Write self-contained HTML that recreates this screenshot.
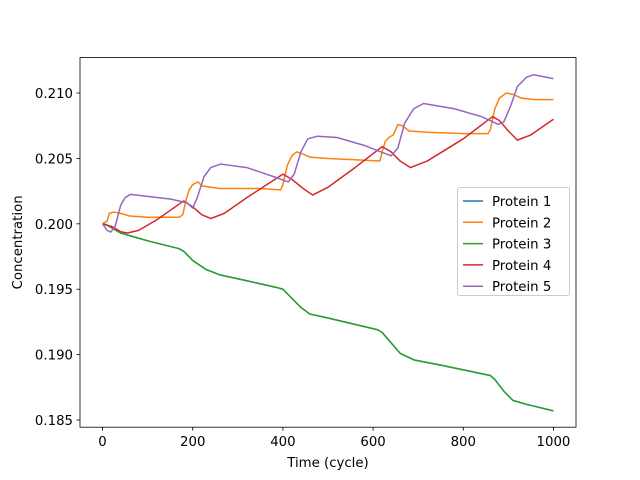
<!DOCTYPE html>
<html><head><meta charset="utf-8"><style>
body{margin:0;background:#fff}
svg{display:block;font-family:"DejaVu Sans","Liberation Sans",sans-serif}
</style></head><body>
<svg id="chart" width="640" height="480" viewBox="0 0 640 480"></svg>
<script>
const xTicks=[0,200,400,600,800,1000];
const yTicks=[0.185,0.190,0.195,0.200,0.205,0.210];
const yTickLabels=["0.185","0.190","0.195","0.200","0.205","0.210"];
const seriesNames=["Protein 1","Protein 2","Protein 3","Protein 4","Protein 5"];
const colors=["#1f77b4","#ff7f0e","#2ca02c","#d62728","#9467bd"];
const p3x=[0,10,40,60,100,170,180,200,230,260,300,390,400,420,440,460,500,610,620,640,660,690,750,860,870,890,910,940,1000];
const p3y=[0.2000,0.1999,0.1993,0.1991,0.1987,0.1981,0.1979,0.1972,0.1965,0.1961,0.1958,0.1951,0.1950,0.1943,0.1936,0.1931,0.1928,0.1919,0.1917,0.1909,0.1901,0.1896,0.1892,0.1884,0.1881,0.1872,0.1865,0.1862,0.1857];
const p2x=[0,10,15,25,40,60,100,170,178,185,192,200,212,220,260,300,350,395,400,410,420,430,440,460,500,560,615,620,627,635,645,655,665,680,720,800,855,860,870,880,895,910,930,960,1000];
const p2y=[0.2000,0.2002,0.2008,0.2009,0.2008,0.2006,0.2005,0.2005,0.2007,0.2018,0.2026,0.2030,0.2032,0.2029,0.2027,0.2027,0.2027,0.2026,0.2030,0.2045,0.2052,0.2055,0.2054,0.2051,0.2050,0.2049,0.2048,0.2055,0.2063,0.2066,0.2068,0.2076,0.2075,0.2071,0.2070,0.2069,0.2069,0.2072,0.2088,0.2096,0.2100,0.2099,0.2096,0.2095,0.2095];
const p4x=[0,20,40,55,80,120,180,200,220,240,270,320,400,420,445,466,500,560,620,640,660,683,720,800,865,880,900,920,950,1000];
const p4y=[0.2000,0.1998,0.1994,0.1993,0.1995,0.2003,0.20175,0.2013,0.2007,0.2004,0.2008,0.2020,0.2038,0.2034,0.2027,0.2022,0.2028,0.2043,0.2059,0.2055,0.2048,0.2043,0.2048,0.2065,0.2082,0.2079,0.2071,0.2064,0.2068,0.2080];
const p5x=[0,10,18,28,40,50,62,100,150,188,200,210,225,240,262,320,380,412,425,440,455,477,520,580,640,655,670,690,712,780,840,878,890,905,920,940,956,1000];
const p5y=[0.2000,0.1995,0.19937,0.1998,0.2014,0.2020,0.20225,0.2021,0.2019,0.2016,0.2012,0.2020,0.2036,0.2043,0.20457,0.2043,0.2036,0.2032,0.2038,0.2055,0.2065,0.2067,0.2066,0.2060,0.2052,0.2058,0.2077,0.2088,0.2092,0.2088,0.2082,0.2076,0.2078,0.2090,0.2105,0.2112,0.2114,0.2111];
const seriesX=[p3x,p2x,p3x,p4x,p5x];
const seriesY=[p3y,p2y,p3y,p4y,p5y];

const L=80,R=576,T=57.6,B=427.2;
const xMin=-50,xMax=1050,yMin=0.18445,yMax=0.21271;
const sx=v=>L+(v-xMin)/(xMax-xMin)*(R-L);
const sy=v=>B-(v-yMin)/(yMax-yMin)*(B-T);
const NS="http://www.w3.org/2000/svg";
const svg=document.getElementById('chart');
function mk(tag,attrs,parent){const e=document.createElementNS(NS,tag);for(const k in attrs)e.setAttribute(k,attrs[k]);(parent||svg).appendChild(e);return e;}
const FS=13.3;

const plot=mk('g',{});


for(let i=0;i<seriesNames.length;i++){
  const d=seriesX[i].map((x,j)=>(j?'L':'M')+sx(x).toFixed(2)+','+sy(seriesY[i][j]).toFixed(2)).join('');
  const p=mk('path',{d:d,fill:'none',stroke:colors[i],'stroke-width':1.5,'stroke-linejoin':'round'},plot);
  
  
}
const frame=mk('rect',{x:L,y:T,width:R-L,height:B-T,fill:'none',stroke:'#000','stroke-width':0.8});



xTicks.forEach(v=>{
  const x=sx(v);
  const t=mk('line',{x1:x,x2:x,y1:B,y2:B+3.5,stroke:'#000','stroke-width':0.8});
  
  
  const tx=mk('text',{x:x,y:B+19,'font-size':FS,'text-anchor':'middle',fill:'#000'});
  tx.textContent=String(v);
  
  
});
yTicks.forEach((v,i)=>{
  const y=sy(v);
  const t=mk('line',{x1:L-3.5,x2:L,y1:y,y2:y,stroke:'#000','stroke-width':0.8});
  
  
  const tx=mk('text',{x:L-7,y:y+5,'font-size':FS,'text-anchor':'end',fill:'#000'});
  tx.textContent=yTickLabels[i];
  
  
});
const xt=mk('text',{x:(L+R)/2,y:467,'font-size':FS,'text-anchor':'middle'});
xt.textContent='Time (cycle)';


const yt=mk('text',{x:22,y:(T+B)/2,'font-size':FS,'text-anchor':'middle',transform:'rotate(-90 22 '+((T+B)/2)+')'});
yt.textContent='Concentration';



const lg=mk('g',{});


mk('rect',{x:457.5,y:187.5,width:112,height:108,rx:2,fill:'#fff','fill-opacity':0.8,stroke:'#ccc','stroke-width':1},lg);
seriesNames.forEach((n,i)=>{
  const y=201+i*21.3;
  const e=mk('g',{},lg);
  
  
  mk('line',{x1:463,x2:483,y1:y,y2:y,stroke:colors[i],'stroke-width':1.5},e);
  const t=mk('text',{x:492,y:y+5,'font-size':FS},e);
  t.textContent=n;
});
</script>
</body></html>
